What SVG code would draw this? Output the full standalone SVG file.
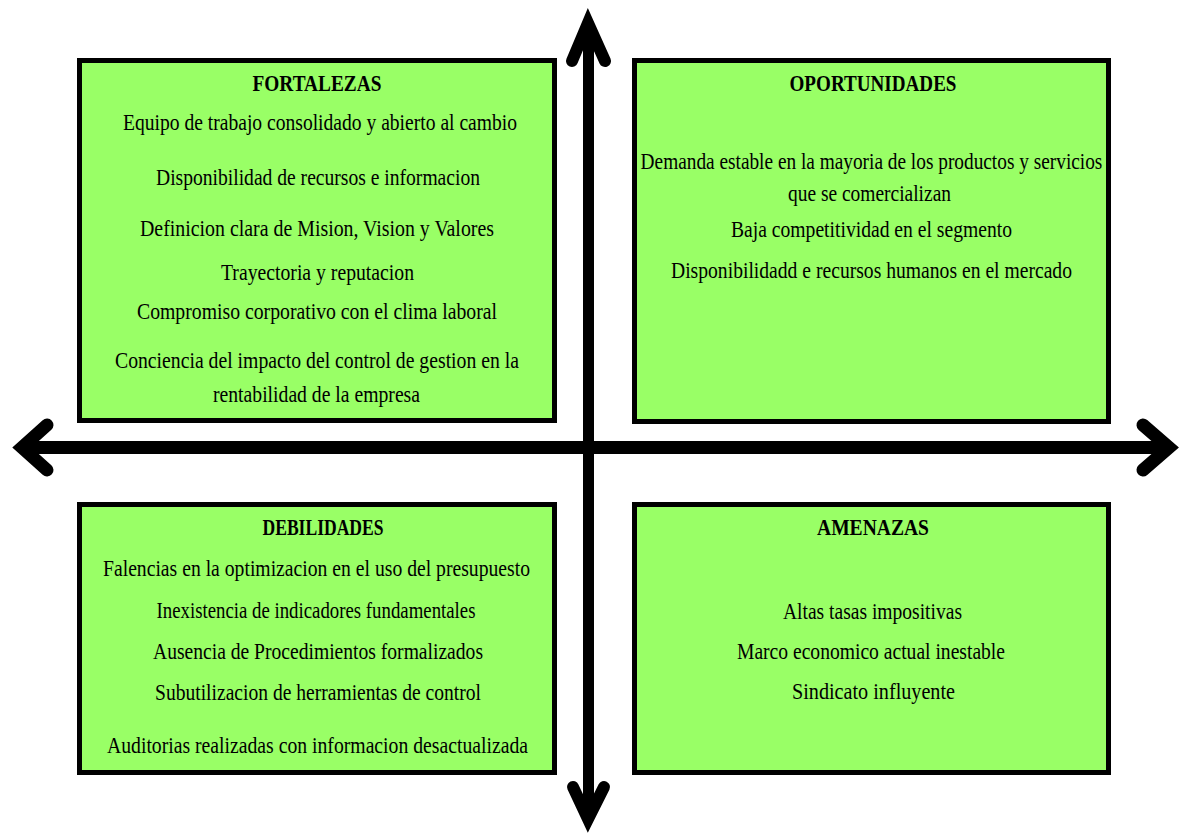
<svg xmlns="http://www.w3.org/2000/svg" width="1180" height="834" viewBox="0 0 1180 834">
  <style>
    .box { fill: #99FF66; stroke: #000000; stroke-width: 5; }
    .t { font-family: "Liberation Serif", "Times New Roman", serif; font-size: 23px; fill: #000000; text-anchor: middle; }
    .h { font-weight: bold; }
    .shaft { stroke: #000000; fill: none; stroke-linecap: butt; }
    .head { stroke: #000000; fill: none; stroke-linecap: round; stroke-linejoin: miter; stroke-miterlimit: 6; }
  </style>
  <rect width="1180" height="834" fill="#ffffff"/>

  <!-- quadrants -->
  <g id="fortalezas">
    <rect class="box" x="79.5" y="60.5" width="475" height="360"/>
    <text class="t h" x="317" y="91" textLength="129" lengthAdjust="spacingAndGlyphs">FORTALEZAS</text>
    <text class="t" x="320" y="130" textLength="394" lengthAdjust="spacingAndGlyphs">Equipo de trabajo consolidado y abierto al cambio</text>
    <text class="t" x="318" y="185" textLength="324" lengthAdjust="spacingAndGlyphs">Disponibilidad de recursos e informacion</text>
    <text class="t" x="317" y="236" textLength="354" lengthAdjust="spacingAndGlyphs">Definicion clara de Mision, Vision y Valores</text>
    <text class="t" x="317.5" y="280" textLength="193" lengthAdjust="spacingAndGlyphs">Trayectoria y reputacion</text>
    <text class="t" x="317" y="319" textLength="360" lengthAdjust="spacingAndGlyphs">Compromiso corporativo con el clima laboral</text>
    <text class="t" x="317" y="368" textLength="404" lengthAdjust="spacingAndGlyphs">Conciencia del impacto del control de gestion en la</text>
    <text class="t" x="316.5" y="402" textLength="207" lengthAdjust="spacingAndGlyphs">rentabilidad de la empresa</text>
  </g>

  <g id="oportunidades">
    <rect class="box" x="634.5" y="60.5" width="474" height="361"/>
    <text class="t h" x="873" y="91" textLength="167" lengthAdjust="spacingAndGlyphs">OPORTUNIDADES</text>
    <!-- long line: narrowed with a horizontal scale so it fits inside the frame -->
    <text class="t" transform="scale(0.78,1)" x="1117.3" y="169" textLength="592" lengthAdjust="spacingAndGlyphs">Demanda estable en la mayoria de los productos y servicios</text>
    <text class="t" x="869.5" y="201" textLength="163" lengthAdjust="spacingAndGlyphs">que se comercializan</text>
    <text class="t" x="871.5" y="237" textLength="281" lengthAdjust="spacingAndGlyphs">Baja competitividad en el segmento</text>
    <text class="t" x="871.5" y="278" textLength="401" lengthAdjust="spacingAndGlyphs">Disponibilidadd e recursos humanos en el mercado</text>
  </g>

  <g id="debilidades">
    <rect class="box" x="79.5" y="504.5" width="475" height="268"/>
    <text class="t h" x="323" y="535" textLength="121" lengthAdjust="spacingAndGlyphs">DEBILIDADES</text>
    <text class="t" x="316.5" y="576" textLength="427" lengthAdjust="spacingAndGlyphs">Falencias en la optimizacion en el uso del presupuesto</text>
    <text class="t" x="316" y="618" textLength="319" lengthAdjust="spacingAndGlyphs">Inexistencia de indicadores fundamentales</text>
    <text class="t" x="318" y="659" textLength="330" lengthAdjust="spacingAndGlyphs">Ausencia de Procedimientos formalizados</text>
    <text class="t" x="318" y="700" textLength="326" lengthAdjust="spacingAndGlyphs">Subutilizacion de herramientas de control</text>
    <text class="t" x="317.5" y="753" textLength="421" lengthAdjust="spacingAndGlyphs">Auditorias realizadas con informacion desactualizada</text>
  </g>

  <g id="amenazas">
    <rect class="box" x="634.5" y="504.5" width="474" height="268"/>
    <text class="t h" x="873" y="535" textLength="112" lengthAdjust="spacingAndGlyphs">AMENAZAS</text>
    <text class="t" x="872.5" y="619" textLength="179" lengthAdjust="spacingAndGlyphs">Altas tasas impositivas</text>
    <text class="t" x="871" y="659" textLength="268" lengthAdjust="spacingAndGlyphs">Marco economico actual inestable</text>
    <text class="t" x="873.5" y="699" textLength="163" lengthAdjust="spacingAndGlyphs">Sindicato influyente</text>
  </g>

  <!-- axes -->
  <g id="connectors">
    <line class="shaft" x1="588.5" y1="22" x2="588.5" y2="818" stroke-width="11"/>
    <line class="shaft" x1="22" y1="447.5" x2="1168" y2="447.5" stroke-width="13"/>
    <polyline class="head" points="572,61 588,23 605,61" stroke-width="12"/>
    <polyline class="head" points="573,787 588,819 604,787" stroke-width="12"/>
    <polyline class="head" points="47,425 22,447.5 47,470" stroke-width="13"/>
    <polyline class="head" points="1143,425 1169,447.5 1143,470" stroke-width="13"/>
  </g>
</svg>
